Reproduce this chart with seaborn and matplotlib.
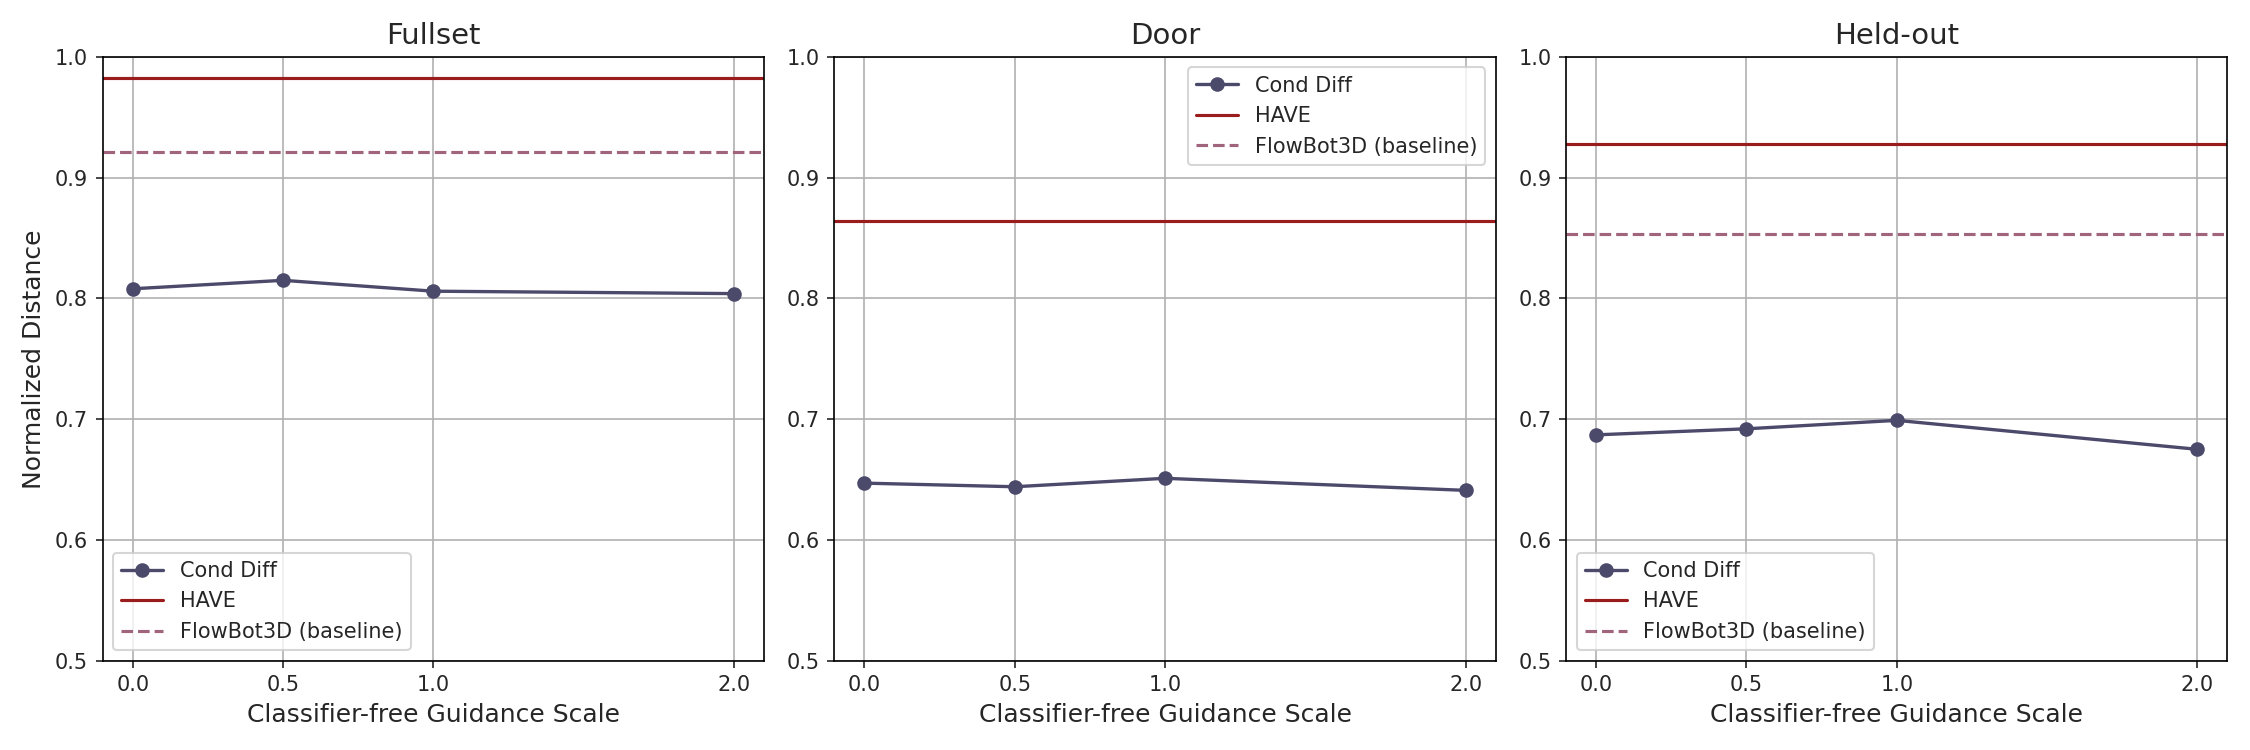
import pandas as pd
import matplotlib
matplotlib.use("Agg")
import matplotlib.pyplot as plt
import seaborn as sns

# Guidance scales and per-split results
scales = [0.0, 0.5, 1.0, 2.0]
splits = ["Fullset", "Door", "Held-out"]
cond_diff = {
    "Fullset": [0.808, 0.815, 0.806, 0.804],
    "Door": [0.647, 0.644, 0.651, 0.641],
    "Held-out": [0.687, 0.692, 0.699, 0.675],
}
have = {"Fullset": 0.983, "Door": 0.864, "Held-out": 0.928}
flowbot = {"Fullset": 0.921, "Door": 1.05, "Held-out": 0.853}  # Door baseline sits off the axis
legend_loc = {"Fullset": "lower left", "Door": "upper right", "Held-out": "lower left"}

sns.set_style("white")
plt.rcParams["font.family"] = ["DejaVu Sans"]

fig, axes = plt.subplots(1, 3, figsize=(15, 5), dpi=150)

for ax, split in zip(axes, splits):
    df = pd.DataFrame({"scale": scales, "dist": cond_diff[split]})
    sns.lineplot(data=df, x="scale", y="dist", marker="o", markersize=7,
                 color="#4b4a6b", linewidth=1.6, markeredgewidth=0,
                 label="Cond Diff", ax=ax)
    ax.axhline(have[split], color="#9b1c1c", linewidth=1.5, label="HAVE")
    ax.axhline(flowbot[split], color="#a0647c", linewidth=1.5, linestyle="--",
               label="FlowBot3D (baseline)")
    ax.set_ylim(0.5, 1.0)
    ax.set_xticks(scales)
    ax.set_title(split, fontsize=14)
    ax.set_xlabel("Classifier-free Guidance Scale", fontsize=12)
    ax.set_ylabel("Normalized Distance" if split == "Fullset" else "", fontsize=12)
    ax.grid(True, color="#b0b0b0", linewidth=0.8)
    ax.tick_params(axis="both", labelsize=10, left=True, bottom=True, length=3.5)
    for s in ax.spines.values():
        s.set_color("black")
        s.set_linewidth(0.8)
    ax.legend(loc=legend_loc[split], fontsize=10)

plt.tight_layout()
plt.savefig("out.png", dpi=150)
